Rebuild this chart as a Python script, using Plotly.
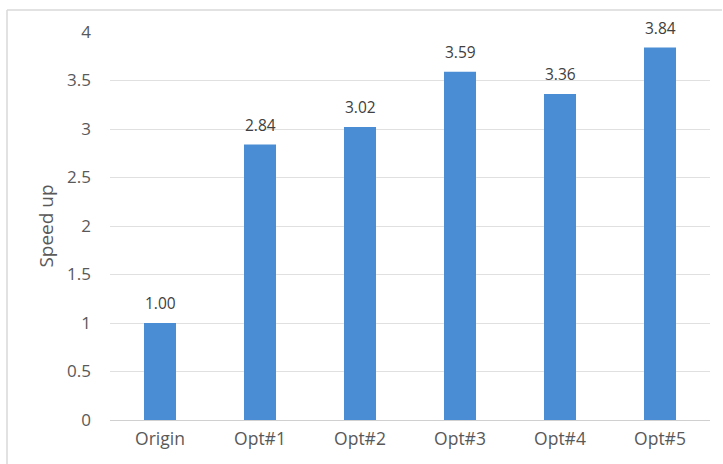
import plotly.graph_objects as go

categories = ["Origin", "Opt#1", "Opt#2", "Opt#3", "Opt#4", "Opt#5"]
speedup = [1.00, 2.84, 3.02, 3.59, 3.36, 3.84]
y_ticks = [0, 0.5, 1, 1.5, 2, 2.5, 3, 3.5, 4]
y_tick_text = ["0", "0.5", "1", "1.5", "2", "2.5", "3", "3.5", "4"]

W, H = 723, 464
fig = go.Figure(
    go.Bar(
        x=categories,
        y=speedup,
        marker=dict(color="#4A8DD4", line=dict(width=0)),
        cliponaxis=False,
    )
)

# value labels above each bar
for cat, v in zip(categories, speedup):
    fig.add_annotation(
        x=cat, y=v, text=f"{v:.2f}", showarrow=False,
        yanchor="bottom", yshift=7,
        font=dict(family="Open Sans, sans-serif", size=15.5, color="#404040"),
    )

fig.update_layout(
    width=W,
    height=H,
    margin=dict(l=110, r=13, t=32, b=44),
    paper_bgcolor="white",
    plot_bgcolor="white",
    bargap=0.68,
    showlegend=False,
    font=dict(family="Open Sans, sans-serif", color="#595959"),
    xaxis=dict(
        showline=True,
        linecolor="#d0d0d0",
        linewidth=1,
        tickfont=dict(size=17.5, color="#595959"),
        ticks="",
        showgrid=False,
        ticklabelstandoff=3,
    ),
    yaxis=dict(
        range=[0, 4],
        tickvals=y_ticks,
        ticktext=y_tick_text,
        tickfont=dict(size=17, color="#595959"),
        showgrid=True,
        gridcolor="#e0e0e0",
        gridwidth=1,
        zeroline=False,
        showline=False,
        ticks="",
        ticklabelstandoff=18,
        title=dict(text="Speed up", font=dict(size=19, color="#595959"), standoff=8),
    ),
    shapes=[
        dict(type="line", xref="paper", yref="paper",
             x0=-(110 - 7) / (W - 123), x1=1.02, y0=1 + 22 / (H - 76), y1=1 + 22 / (H - 76),
             line=dict(color="#d9d9d9", width=1.5)),
        dict(type="line", xref="paper", yref="paper",
             x0=-(110 - 7) / (W - 123), x1=-(110 - 7) / (W - 123), y0=-0.12, y1=1 + 22 / (H - 76),
             line=dict(color="#d9d9d9", width=1.5)),
    ],
)

fig.write_html("out.html")
